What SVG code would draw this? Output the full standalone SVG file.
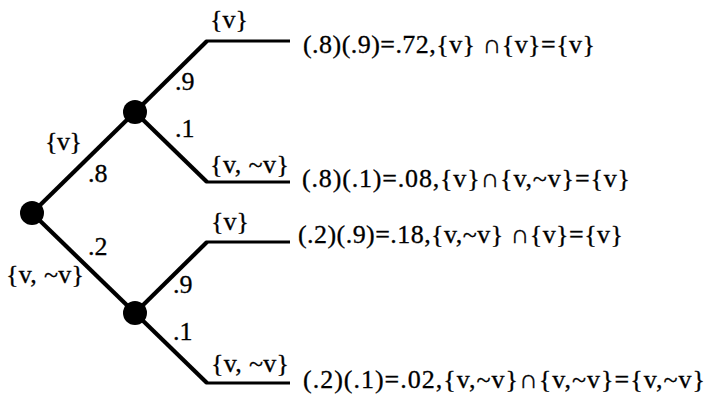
<svg xmlns="http://www.w3.org/2000/svg" width="709" height="397" viewBox="0 0 709 397">
<style>
text{font-family:"Liberation Serif","Times New Roman",serif;font-size:26px;fill:#000;stroke:#000;stroke-width:0.3}
.e{stroke:#000;stroke-width:4.2;fill:none;stroke-linecap:butt;stroke-linejoin:miter}
.h{stroke:#000;stroke-width:3.2;fill:none}
.n{fill:#000}
</style>
<rect width="709" height="397" fill="#fff"/>
<g id="connectors">
<path class="e" d="M32,213 L135,112"/>
<path class="e" d="M32,213 L135,313"/>
<path class="e" d="M135,112 L207,41"/>
<path class="h" d="M206,41 L290,41"/>
<path class="e" d="M135,112 L207,182"/>
<path class="h" d="M206,182 L290,182"/>
<path class="e" d="M135,313 L207,242"/>
<path class="h" d="M206,242 L290,242"/>
<path class="e" d="M135,313 L207,383"/>
<path class="h" d="M206,383 L290,383"/>
<text x="45" y="150" textLength="37" lengthAdjust="spacing">{v}</text>
<text x="88" y="182">.8</text>
<text x="88" y="255">.2</text>
<text x="6" y="283" textLength="78" lengthAdjust="spacing">{v, ~v}</text>
<text x="210" y="28" textLength="38" lengthAdjust="spacing">{v}</text>
<text x="175" y="90">.9</text>
<text x="175" y="137">.1</text>
<text x="210" y="173" textLength="79" lengthAdjust="spacing">{v, ~v}</text>
<text x="211" y="230" textLength="38" lengthAdjust="spacing">{v}</text>
<text x="173" y="293">.9</text>
<text x="173" y="340">.1</text>
<text x="211" y="372" textLength="78" lengthAdjust="spacing">{v, ~v}</text>
</g>
<g id="root"><circle class="n" cx="32" cy="213" r="12"/></g>
<g id="upper"><circle class="n" cx="135" cy="112" r="12"/></g>
<g id="lower"><circle class="n" cx="135" cy="313" r="12"/></g>
<g id="leaf1"><text x="303" y="53" textLength="292" lengthAdjust="spacing">(.8)(.9)=.72,{v} ∩{v}={v}</text></g>
<g id="leaf2"><text x="302" y="187" textLength="328" lengthAdjust="spacing">(.8)(.1)=.08,{v}∩{v,~v}={v}</text></g>
<g id="leaf3"><text x="298" y="243" textLength="325" lengthAdjust="spacing">(.2)(.9)=.18,{v,~v} ∩{v}={v}</text></g>
<g id="leaf4"><text x="303" y="388" textLength="402" lengthAdjust="spacing">(.2)(.1)=.02,{v,~v}∩{v,~v}={v,~v}</text></g>
</svg>
